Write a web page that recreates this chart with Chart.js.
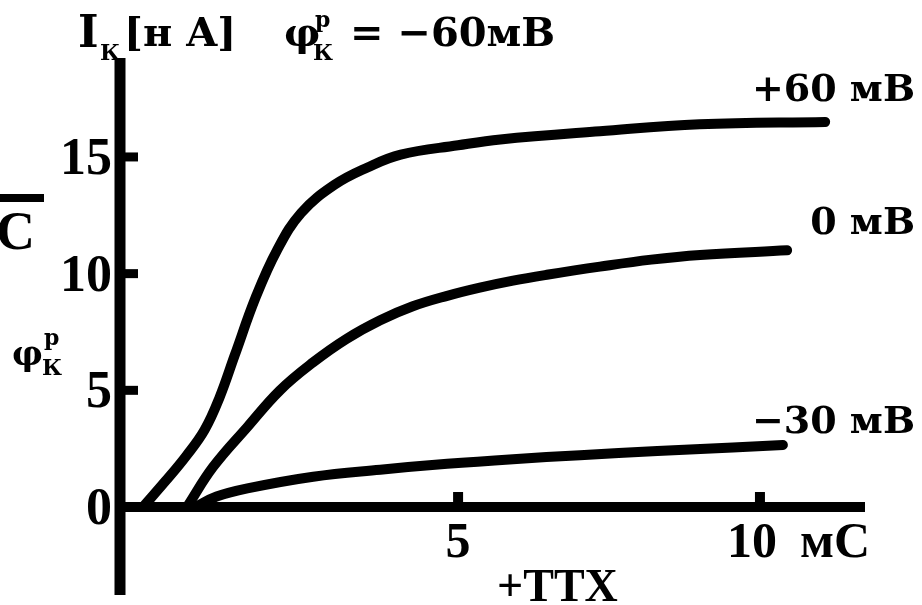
<!DOCTYPE html>
<html>
<head>
<meta charset="utf-8">
<script src="https://cdn.jsdelivr.net/npm/chart.js@4.4.0/dist/chart.umd.min.js"></script>
<style>
  html, body { margin: 0; padding: 0; background: #fff; }
  #wrap { width: 922px; height: 605px; position: relative; }
</style>
</head>
<body>
<div id="wrap"><canvas id="chart"></canvas></div>
<script>
// Curve data (time in mС, current in нА)
const plus60X = [-0.22, 0.15, 0.5, 0.8, 1.05, 1.3, 1.65, 2.0, 2.4, 2.95, 3.5, 4.05, 5.0, 5.7, 7.35, 9.0, 11.08];
const plus60Y = [0, 1.1, 2.2, 3.3, 4.7, 6.5, 9.0, 11.0, 12.6, 13.8, 14.55, 15.1, 15.5, 15.75, 16.1, 16.4, 16.5];
const zeroX = [0.51, 0.94, 1.51, 2.05, 2.6, 3.15, 3.71, 4.25, 4.82, 5.36, 5.91, 6.47, 7.35, 8.2, 9.01, 10.45];
const zeroY = [0, 1.71, 3.43, 5.0, 6.2, 7.2, 8.0, 8.6, 9.05, 9.4, 9.7, 9.95, 10.3, 10.6, 10.8, 11.0];
const minus30X = [0.65, 1.0, 1.51, 2.6, 3.71, 4.82, 5.91, 7.02, 8.3, 9.55, 10.38];
const minus30Y = [0, 0.45, 0.8, 1.3, 1.6, 1.85, 2.05, 2.22, 2.4, 2.55, 2.66];

const curveLabels = ['+60 мВ', '0 мВ', '−30 мВ'];
const xTicks = [5, 10];
const yTicks = [0, 5, 10, 15];

function toPoints(xs, ys) {
    return xs.map((x, i) => ({ x: x, y: ys[i] }));
}

// Axes, ticks and all the text are drawn here
const decorPlugin = {
    id: 'decor',
    afterDatasetsDraw(chart) {
        const ctx = chart.ctx;
        const area = chart.chartArea;
        const xs = chart.scales.x;
        const ys = chart.scales.y;
        const y0 = ys.getPixelForValue(0);
        ctx.save();
        ctx.strokeStyle = '#000';
        ctx.fillStyle = '#000';
        ctx.lineCap = 'butt';

        // y axis
        ctx.lineWidth = 11;
        ctx.beginPath();
        ctx.moveTo(area.left, area.top);
        ctx.lineTo(area.left, area.bottom);
        ctx.stroke();
        // x axis
        ctx.lineWidth = 10;
        ctx.beginPath();
        ctx.moveTo(area.left - 5, y0);
        ctx.lineTo(area.right, y0);
        ctx.stroke();

        // y ticks
        ctx.lineWidth = 9;
        ctx.font = 'bold 52px "Liberation Serif"';
        ctx.textAlign = 'right';
        ctx.textBaseline = 'alphabetic';
        yTicks.forEach(v => {
            const py = ys.getPixelForValue(v);
            if (v !== 0) {
                ctx.beginPath();
                ctx.moveTo(area.left, py);
                ctx.lineTo(area.left + 18, py);
                ctx.stroke();
            }
            ctx.fillText(String(v), area.left - 8, py + 17);
        });

        // x ticks
        ctx.lineWidth = 10;
        ctx.font = 'bold 50px "Liberation Serif"';
        ctx.textAlign = 'center';
        xTicks.forEach(v => {
            const px = xs.getPixelForValue(v);
            ctx.beginPath();
            ctx.moveTo(px, y0);
            ctx.lineTo(px, y0 - 15);
            ctx.stroke();
            ctx.fillText(String(v), px - (v === 10 ? 8 : 0), 557);
        });
        ctx.textAlign = 'left';
        ctx.fillText('мС', 800, 557);
        ctx.font = 'bold 46px "Liberation Serif"';
        ctx.fillText('+TTX', 497, 601);

        // curve labels
        ctx.font = 'bold 38px "DejaVu Serif"';
        ctx.textAlign = 'right';
        const labelY = [101, 234, 433];
        curveLabels.forEach((t, i) => ctx.fillText(t, 915, labelY[i]));

        // title
        ctx.textAlign = 'left';
        ctx.font = 'bold 44px "DejaVu Serif"';
        ctx.fillText('I', 78, 47);
        ctx.font = 'bold 40px "DejaVu Serif"';
        ctx.fillText('[н A]', 124, 46);
        ctx.fillText('φ', 284, 46);
        ctx.fillText('= −60мВ', 350, 46);
        ctx.font = 'bold 22px "DejaVu Serif"';
        ctx.fillText('К', 100, 60);
        ctx.fillText('К', 313, 60);
        ctx.fillText('р', 315, 27);

        // left margin fragments
        ctx.lineWidth = 8;
        ctx.beginPath();
        ctx.moveTo(0, 198);
        ctx.lineTo(44, 198);
        ctx.stroke();
        ctx.font = 'bold 54px "Liberation Serif"';
        ctx.fillText('C', -4, 249);
        ctx.font = 'bold 34px "DejaVu Serif"';
        ctx.fillText('φ', 12, 365);
        ctx.font = 'bold 22px "DejaVu Serif"';
        ctx.fillText('К', 42, 375);
        ctx.fillText('р', 44, 345);
        ctx.restore();
    }
};

const lineStyle = {
    borderColor: '#000',
    borderWidth: 10,
    pointRadius: 0,
    fill: false,
    tension: 0.4,
    borderCapStyle: 'round',
    borderJoinStyle: 'round',
    clip: false
};

const ctx = document.getElementById('chart').getContext('2d');
const chart = new Chart(ctx, {
    type: 'line',
    data: {
        datasets: [
            Object.assign({ label: curveLabels[0], data: toPoints(plus60X, plus60Y) }, lineStyle),
            Object.assign({ label: curveLabels[1], data: toPoints(zeroX, zeroY) }, lineStyle),
            Object.assign({ label: curveLabels[2], data: toPoints(minus30X, minus30Y) }, lineStyle)
        ]
    },
    options: {
        responsive: true,
        maintainAspectRatio: false,
        animation: false,
        layout: { padding: { left: 120, right: 57, top: 58, bottom: 10 } },
        scales: {
            x: { type: 'linear', min: -0.6, max: 11.74, display: false },
            y: { type: 'linear', min: -3.77, max: 19.24, display: false }
        },
        plugins: {
            legend: { display: false },
            tooltip: { enabled: false }
        }
    },
    plugins: [decorPlugin]
});
</script>
</body>
</html>
